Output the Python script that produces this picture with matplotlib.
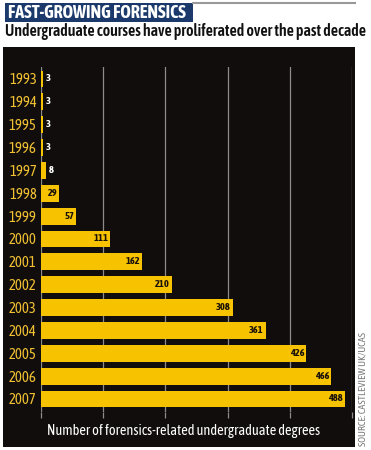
import matplotlib
matplotlib.use('Agg')
import matplotlib.pyplot as plt
from matplotlib.patches import Rectangle
from matplotlib.lines import Line2D

# Data
years = ['1993', '1994', '1995', '1996', '1997', '1998', '1999', '2000',
         '2001', '2002', '2003', '2004', '2005', '2006', '2007']
degrees = [3, 3, 3, 3, 8, 29, 57, 111, 162, 210, 308, 361, 426, 466, 488]
x_ticks = [0, 100, 200, 300, 400, 500]

plt.rcParams['font.family'] = ['Asap Condensed', 'DejaVu Sans']

W, H = 371, 450
fig = plt.figure(figsize=(W / 100, H / 100), dpi=100)
fig.patch.set_facecolor('white')

def px(x, y):
    # pixel coords (top-left origin) -> figure fraction
    return x / W, 1 - y / H

# black panel
x0, y0 = px(3, 447)
fig.patches.append(Rectangle((x0, y0), (355 - 3) / W, (447 - 47) / H,
                             transform=fig.transFigure, facecolor='#110d0c',
                             edgecolor='none', zorder=-2))

# title box
x0, y0 = px(5, 22)
fig.patches.append(Rectangle((x0, y0), (193 - 5) / W, (22 - 3) / H,
                             transform=fig.transFigure, facecolor='#1b3a6b',
                             edgecolor='none', zorder=-1))
fig.lines.append(Line2D([193 / W, 355 / W], [1 - 2.5 / H, 1 - 2.5 / H],
                        transform=fig.transFigure, color='#999999', lw=1.5))
fig.text(*px(8, 12.5), 'FAST-GROWING FORENSICS', color='white', fontsize=13,
         fontweight='bold', va='center', ha='left')
fig.text(*px(5, 32), 'Undergraduate courses have proliferated over the past decade',
         color='#111111', fontsize=11.4, fontweight='semibold', va='center', ha='left')

# chart axes
ax = fig.add_axes([41 / W, (H - 412) / H, (352 - 41) / W, (412 - 67) / H])
ax.set_facecolor('none')
pos = list(range(len(years)))
ax.set_axisbelow(True)
ax.grid(axis='x', color='#8c8c8c', lw=0.9)
ax.barh(pos, degrees, height=0.74, color='#f7c300', zorder=3)
ax.set_xlim(0, 500)
ax.set_ylim(14.57, -0.525)
ax.set_xticks(x_ticks)
ax.set_xticklabels([])
ax.tick_params(axis='x', length=4, width=0.9, color='#8c8c8c', direction='out')
ax.set_yticks(pos)
ax.set_yticklabels(years, color='#f2c233', fontsize=10.5)
ax.tick_params(axis='y', length=0, pad=3)
for s in ax.spines.values():
    s.set_visible(False)

for p, v in zip(pos, degrees):
    if v < 20:
        ax.text(v + 4, p, str(v), color='white', fontsize=7.5, fontweight='bold',
                ha='left', va='center', zorder=4)
    else:
        ax.text(v - 3, p, str(v), color='#1a1208', fontsize=7.5, fontweight='bold',
                ha='right', va='center', zorder=4)

fig.text(*px(184, 431), 'Number of forensics-related undergraduate degrees',
         color='white', fontsize=10.4, ha='center', va='center')
fig.text(*px(363, 446), 'SOURCE: CASTLEVIEW UK/UCAS', color='#777777', fontsize=7.3,
         rotation=90, ha='center', va='bottom')

fig.savefig('out.png', dpi=100)
